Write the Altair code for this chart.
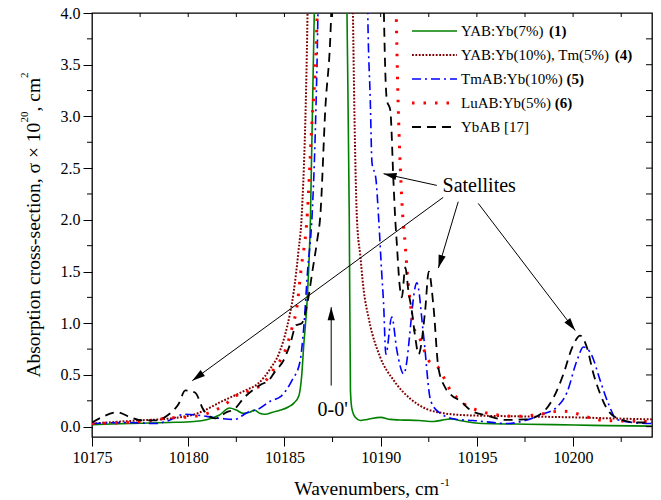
import math
import altair as alt
import pandas as pd

# ---------------- data (wavenumber, cross-section) ----------------
g_x = [10175.0, 10177.0, 10179.0, 10180.3, 10181.0, 10181.6, 10182.15, 10182.5, 10182.85, 10183.2,
       10183.45, 10183.7, 10184.0, 10184.4, 10184.8, 10185.2, 10185.5, 10185.75, 10185.9, 10186.0,
       10186.18, 10186.35, 10186.55, 10186.8, 10188.0, 10188.25, 10188.37, 10188.43, 10188.5, 10188.68,
       10188.94, 10189.3, 10190.0, 10190.5, 10191.0, 10192.0, 10192.75, 10193.4, 10193.7, 10194.1,
       10195.3, 10197.0, 10199.0, 10201.0, 10203.0, 10204.1]
g_y = [0.02, 0.03, 0.04, 0.05, 0.07, 0.11, 0.18, 0.16, 0.13, 0.14,
       0.16, 0.13, 0.12, 0.14, 0.16, 0.19, 0.23, 0.30, 0.50, 0.78,
       1.22, 2.0, 4.0, 9.0, 9.0, 4.0, 2.0, 0.35, 0.18, 0.09,
       0.06, 0.07, 0.09, 0.07, 0.065, 0.06, 0.05, 0.07, 0.075, 0.06,
       0.03, 0.025, 0.02, 0.012, 0.008, 0.005]

dr_x = [10175.0, 10177.4, 10179.1, 10180.5, 10181.7, 10182.95, 10183.65, 10184.3, 10184.7, 10185.13,
        10185.47, 10185.73, 10185.9, 10186.2, 10186.5, 10188.3, 10188.56, 10188.77, 10188.95, 10189.1,
        10189.4, 10189.98, 10190.67, 10191.54, 10192.4, 10193.27, 10194.5, 10197.0, 10200.0, 10202.0, 10204.1]
dr_y = [0.03, 0.06, 0.08, 0.13, 0.24, 0.35, 0.42, 0.57, 0.70, 0.96,
        1.29, 1.70, 2.05, 4.0, 9.0, 9.0, 4.0, 2.0, 1.64, 1.35,
        1.03, 0.67, 0.45, 0.27, 0.17, 0.13, 0.11, 0.10, 0.09, 0.08, 0.07]

b_x = [10175.0, 10176.9, 10178.3, 10179.0, 10179.8, 10180.5, 10181.7, 10182.4, 10183.1, 10183.65,
       10184.3, 10184.8, 10185.4, 10185.8, 10186.0, 10186.2, 10186.45, 10186.6, 10186.74, 10187.0,
       10189.1, 10189.33, 10189.46, 10189.55, 10189.75, 10189.9, 10190.05, 10190.15, 10190.27, 10190.58,
       10190.84, 10191.2, 10191.88, 10192.23, 10192.6, 10193.09, 10193.96, 10194.8, 10196.6, 10197.5,
       10198.4, 10199.16, 10199.68, 10200.2, 10200.54, 10200.97, 10201.4, 10201.84, 10202.27, 10203.1, 10204.1]
b_y = [0.03, 0.04, 0.03, 0.06, 0.12, 0.11, 0.08, 0.07, 0.14, 0.17,
       0.25, 0.29, 0.45, 0.62, 0.95, 1.5, 2.09, 2.83, 4.0, 9.0,
       9.0, 4.0, 3.16, 2.55, 2.4, 2.0, 1.5, 1.2, 0.70, 1.06,
       0.74, 0.51, 1.39, 0.88, 0.25, 0.13, 0.07, 0.06, 0.03, 0.06,
       0.12, 0.19, 0.33, 0.64, 0.77, 0.69, 0.45, 0.22, 0.07, 0.04, 0.03]

r_x = [10175.0, 10177.6, 10178.8, 10180.35, 10181.8, 10182.5, 10183.5, 10183.85, 10184.5, 10185.05,
       10185.4, 10185.65, 10185.85, 10186.2, 10186.4, 10186.7, 10187.0, 10190.5, 10190.81, 10191.1,
       10191.28, 10191.4, 10191.54, 10191.71, 10191.97, 10192.49, 10193.0, 10193.6, 10194.13, 10195.17,
       10196.2, 10197.0, 10198.3, 10199.3, 10199.9, 10200.45, 10201.56, 10204.1]
r_y = [0.03, 0.05, 0.08, 0.10, 0.20, 0.30, 0.37, 0.41, 0.57, 0.74,
       0.96, 1.16, 1.5, 2.09, 2.84, 4.0, 9.0, 9.0, 4.0, 2.19,
       1.75, 1.45, 1.2, 0.96, 0.88, 0.64, 0.57, 0.36, 0.25, 0.15,
       0.11, 0.10, 0.12, 0.15, 0.14, 0.11, 0.06, 0.05]

k_x = [10175.0, 10175.5, 10176.3, 10177.0, 10177.6, 10178.3, 10179.0, 10179.5, 10179.85, 10180.35,
       10180.8, 10181.4, 10182.0, 10182.4, 10182.9, 10183.4, 10183.8, 10184.2, 10184.5, 10184.95,
       10185.3, 10185.6, 10185.9, 10186.2, 10186.45, 10186.7, 10186.86, 10187.12, 10187.43, 10187.7,
       10189.9, 10190.17, 10190.32, 10190.5, 10190.67, 10190.76, 10190.84, 10190.98, 10191.1, 10191.28,
       10191.45, 10191.62, 10191.8, 10191.97, 10192.31, 10192.5, 10192.75, 10193.0, 10193.35, 10193.7,
       10194.13, 10194.74, 10195.5, 10196.5, 10197.5, 10198.3, 10198.98, 10199.5, 10199.94, 10200.37,
       10200.71, 10201.06, 10201.4, 10201.84, 10202.46, 10203.3, 10204.1]
k_y = [0.04, 0.09, 0.14, 0.09, 0.06, 0.06, 0.12, 0.22, 0.35, 0.33,
       0.16, 0.08, 0.14, 0.17, 0.28, 0.36, 0.41, 0.45, 0.53, 0.64,
       0.80, 0.98, 1.00, 1.2, 1.5, 1.8, 2.03, 3.06, 4.0, 9.0,
       9.0, 4.0, 3.16, 3.06, 2.35, 2.0, 1.77, 1.38, 1.25, 1.54,
       1.30, 1.12, 0.86, 0.70, 1.12, 1.50, 1.15, 0.57, 0.38, 0.30,
       0.25, 0.15, 0.11, 0.065, 0.07, 0.12, 0.28, 0.51, 0.76, 0.88,
       0.77, 0.51, 0.32, 0.15, 0.07, 0.04, 0.04]

legend_names = ["YAB:Yb(7%) ", "YAB:Yb(10%), Tm(5%) ", "TmAB:Yb(10%) ", "LuAB:Yb(5%) ", "YbAB [17]"]
legend_bold = ["(1)", "(4)", "(5)", "(6)", ""]

x_major = [10175, 10180, 10185, 10190, 10195, 10200]
x_minor = [10177.5, 10182.5, 10187.5, 10192.5, 10197.5, 10202.5]
y_major = [0.0, 0.5, 1.0, 1.5, 2.0, 2.5, 3.0, 3.5, 4.0]
y_minor = [0.25, 0.75, 1.25, 1.75, 2.25, 2.75, 3.25, 3.75]

# axis titles as (text, is_superscript) pieces
x_title = [("Wavenumbers, cm", False), ("-1", True)]
y_title = [("Absorption cross-section, \u03c3 \u00d7 10", False), ("20", True), (", cm", False), ("2", True)]

# annotation arrows (start -> tip), in data units
arr_x0 = [10192.92, 10193.25, 10194.03, 10195.07, 10187.43]
arr_y0 = [2.333, 2.217, 2.175, 2.159, 0.397]
arr_x1 = [10190.15, 10180.21, 10193.00, 10200.11, 10187.43]
arr_y1 = [2.446, 0.445, 1.534, 0.929, 1.155]

# ---------------- layout ----------------
FONT = "Liberation Serif"
W, H = 560, 424
XMIN, XMAX = 10175, 10204.1
YMIN, YMAX = -0.1, 4.0
KX = W / (XMAX - XMIN)
KY = H / (YMAX - YMIN)

TW = {' ': 250, '(': 333, ')': 333, '%': 833, ',': 250, ':': 278, '-': 333, '[': 333, ']': 333,
      'A': 722, 'B': 667, 'L': 611, 'T': 611, 'Y': 722, 'W': 944,
      'a': 444, 'b': 500, 'c': 444, 'e': 444, 'i': 278, 'm': 778, 'n': 500, 'o': 500, 'p': 500,
      'r': 333, 's': 389, 't': 278, 'u': 500, 'v': 500,
      '\u03c3': 549, '\u00d7': 564}

def text_w(s, fs):
    return sum(TW.get(ch, 500) for ch in s) / 1000 * fs

xs = alt.Scale(domain=[XMIN, XMAX], nice=False, zero=False)
ys = alt.Scale(domain=[YMIN, YMAX], nice=False, zero=False)
x_axis = alt.Axis(values=x_major, format="d", tickSize=9, tickColor="black", tickWidth=1,
                  labelFont=FONT, labelFontSize=16, labelColor="black", labelPadding=3,
                  labelFlush=False, labelOverlap=False, grid=False, domain=False, title=None)
y_axis = alt.Axis(values=y_major, format=".1f", tickSize=9, tickColor="black", tickWidth=1,
                  labelFont=FONT, labelFontSize=16, labelColor="black", labelPadding=3,
                  labelFlush=False, labelOverlap=False, grid=False, domain=False, title=None)
X = alt.X("x:Q", scale=xs, axis=x_axis)
Y = alt.Y("y:Q", scale=ys, axis=y_axis)

def series(xv, yv, color, dash, width):
    df = pd.DataFrame({"x": xv, "y": yv})
    kw = dict(color=color, strokeWidth=width, clip=True, interpolate="monotone")
    if dash:
        kw["strokeDash"] = dash
    return alt.Chart(df).mark_line(**kw).encode(x=X, y=Y)

styles = [
    ("#008000", None, 1.6),
    ("#800000", [1.8, 1.6], 2.0),
    ("#0000ff", [9, 4, 2, 4], 1.6),
    ("#ff0000", [2.5, 9], 3.0),
    ("#000000", [9, 6], 1.8),
]
data_sets = [(g_x, g_y), (dr_x, dr_y), (b_x, b_y), (r_x, r_y), (k_x, k_y)]
layers = [series(d[0], d[1], *s) for d, s in zip(data_sets, styles)]

# minor / mirrored ticks
bottom_minor = alt.Chart(pd.DataFrame({"x": x_minor})).mark_rule(color="black", strokeWidth=1).encode(
    x=X, y=alt.value(H), y2=alt.value(H + 5))
left_minor = alt.Chart(pd.DataFrame({"y": y_minor})).mark_rule(color="black", strokeWidth=1).encode(
    y=Y, x=alt.value(0), x2=alt.value(-5))
top_ticks = alt.Chart(pd.DataFrame({"x": x_major[1:] + x_minor})).mark_rule(color="black", strokeWidth=1).encode(
    x=X, y=alt.value(0), y2=alt.value(4))
right_ticks = alt.Chart(pd.DataFrame({"y": y_major[:-1] + y_minor})).mark_rule(color="black", strokeWidth=1).encode(
    y=Y, x=alt.value(W), x2=alt.value(W - 6))
layers += [bottom_minor, left_minor, top_ticks, right_ticks]

# arrows
ang = []
for a, b, c, d in zip(arr_x0, arr_y0, arr_x1, arr_y1):
    dx = (c - a) * KX
    dy = -(d - b) * KY
    ang.append(math.degrees(math.atan2(dx, -dy)) % 360)
arr_df = pd.DataFrame({"x": arr_x0, "y": arr_y0, "x2": arr_x1, "y2": arr_y1})
head_df = pd.DataFrame({"x": arr_x1, "y": arr_y1, "ang": ang})
arrow_lines = alt.Chart(arr_df).mark_rule(color="black", strokeWidth=1).encode(
    x=X, y=Y, x2="x2:Q", y2="y2:Q")
arrow_heads = alt.Chart(head_df).mark_point(
    shape="M0,0 L-0.28,1 L0.28,1 Z", filled=True, size=676, color="black", opacity=1, strokeWidth=0
).encode(x=X, y=Y, angle=alt.Angle("ang:Q", scale=None))
layers += [arrow_lines, arrow_heads]

ann_df = pd.DataFrame({"x": [10195.12, 10187.51], "y": [2.265, 0.106], "t": ["Satellites", "0-0'"]})
ann = alt.Chart(ann_df).mark_text(font=FONT, fontSize=20, align="center", baseline="alphabetic",
                                  color="black").encode(x=X, y=Y, text="t:N")
layers.append(ann)

one = pd.DataFrame({"a": [0]})

# axis titles with real superscripts
TFS, SFS, RAISE = 19.5, 11, 12
xt_total = sum(text_w(t, SFS if sup else TFS) for t, sup in x_title)
cx = W / 2 - xt_total / 2
xt_base = H + 58
for t, sup in x_title:
    fs = SFS if sup else TFS
    layers.append(alt.Chart(one).mark_text(text=t, font=FONT, fontSize=fs, align="left",
                                           baseline="alphabetic", color="black").encode(
        x=alt.value(cx), y=alt.value(xt_base - (9 if sup else 0))))
    cx += text_w(t, fs)

yt_total = sum(text_w(t, SFS if sup else TFS) for t, sup in y_title)
cy = H / 2 + yt_total / 2
yt_base = -52
for t, sup in y_title:
    fs = SFS if sup else TFS
    layers.append(alt.Chart(one).mark_text(text=t, font=FONT, fontSize=fs, align="left", angle=270,
                                           baseline="alphabetic", color="black").encode(
        x=alt.value(yt_base - (RAISE if sup else 0)), y=alt.value(cy)))
    cy -= text_w(t, fs)

# legend
LFS = 15
row_y = [18, 42, 66, 90, 114]
lx0, lx1, tx = 320, 365, 369
for (color, dash, width), name, bold, yy in zip(styles, legend_names, legend_bold, row_y):
    kw = dict(color=color, strokeWidth=width)
    if dash:
        kw["strokeDash"] = dash
    layers.append(alt.Chart(one).mark_rule(**kw).encode(
        x=alt.value(lx0), x2=alt.value(lx1), y=alt.value(yy)))
    layers.append(alt.Chart(one).mark_text(
        text=name, font=FONT, fontSize=LFS, align="left", baseline="middle", color="black").encode(
        x=alt.value(tx), y=alt.value(yy)))
    if bold:
        layers.append(alt.Chart(one).mark_text(
            text=bold, font=FONT, fontSize=LFS, fontWeight="bold", align="left", baseline="middle",
            color="black").encode(x=alt.value(tx + text_w(name, LFS)), y=alt.value(yy)))

chart = alt.layer(*layers).properties(
    width=W, height=H,
    padding={"left": 92, "top": 13, "right": 9, "bottom": 63},
    autosize=alt.AutoSizeParams(type="none"),
    background="white",
).configure_view(stroke="black", strokeWidth=1.3)

chart.save("out.html", embed_options={"renderer": "svg", "actions": False})
